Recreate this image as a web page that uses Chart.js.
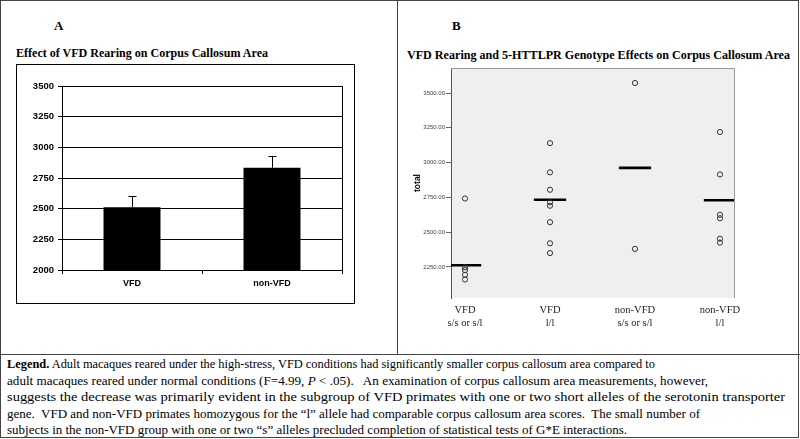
<!DOCTYPE html>
<html>
<head>
<meta charset="utf-8">
<script src="https://cdn.jsdelivr.net/npm/chart.js@4"></script>
<style>
body{margin:0;width:800px;height:439px;background:#fff;position:relative;overflow:hidden;font-family:"Liberation Serif","Times New Roman",serif;color:#000;}
.abs{position:absolute;}
#frame{left:0;top:0;width:799px;height:438px;border:1px solid #444;box-sizing:border-box;}
#vline{left:397px;top:0;width:1px;height:354px;background:#444;}
#hline{left:0;top:354px;width:800px;height:1px;background:#444;}
.panel{font-weight:bold;font-size:13px;}
.title{font-weight:bold;font-size:13px;white-space:nowrap;transform-origin:left center;}
#boxA{left:16px;top:64px;width:339px;height:240px;border:1px solid #000;box-sizing:border-box;}
#legend{left:7px;top:356px;font-size:13px;line-height:16.5px;white-space:pre;}
#legend span{display:inline-block;transform-origin:left center;}
</style>
</head>
<body>
<div id="frame" class="abs"></div>
<div id="vline" class="abs"></div>
<div id="hline" class="abs"></div>

<div class="abs panel" style="left:54px;top:18px;">A</div>
<div id="titleA" class="abs title" style="left:16px;top:45px;">Effect of VFD Rearing on Corpus Callosum Area</div>
<div id="boxA" class="abs"></div>
<canvas id="chartA" class="abs" width="337" height="238" style="left:17px;top:65px;"></canvas>

<div class="abs panel" style="left:452px;top:18px;">B</div>
<div id="titleB" class="abs title" style="left:407px;top:47px;">VFD Rearing and 5-HTTLPR Genotype Effects on Corpus Callosum Area</div>
<canvas id="chartB" class="abs" width="398" height="290" style="left:400px;top:60px;"></canvas>

<div id="legend" class="abs"><div><span data-w="648"><b>Legend.</b> Adult macaques reared under the high-stress, VFD conditions had significantly smaller corpus callosum area compared to</span></div><div><span data-w="701">adult macaques reared under normal conditions (F=4.99, <i>P</i> &lt; .05).   An examination of corpus callosum area measurements, however,</span></div><div><span data-w="778">suggests the decrease was primarily evident in the subgroup of VFD primates with one or two short alleles of the serotonin transporter</span></div><div><span data-w="693">gene.  VFD and non-VFD primates homozygous for the “l” allele had comparable corpus callosum area scores.  The small number of</span></div><div><span data-w="620">subjects in the non-VFD group with one or two “s” alleles precluded completion of statistical tests of G*E interactions.</span></div></div>

<script>
// panel A: group means with error bars
const groupsA = ['VFD', 'non-VFD'];
const meansA = [2511, 2834];
const errorsA = [93, 95];

// panel B: individual areas per rearing / genotype group
const groupLabelsB = [['VFD', 's/s or s/l'], ['VFD', 'l/l'], ['non-VFD', 's/s or s/l'], ['non-VFD', 'l/l']];
const vfdShort = [2742, 2248, 2228, 2193, 2160];
const vfdLong = [3140, 2930, 2805, 2714, 2690, 2572, 2420, 2350];
const nonVfdShort = [3572, 2380];
const nonVfdLong = [3220, 2915, 2625, 2600, 2453, 2425];
const groupMeansB = [2262, 2733, 2962, 2730];
const yTicksB = [2250, 2500, 2750, 3000, 3250, 3500];

const sans = '"Liberation Sans", Arial, sans-serif';
const serif = '"Liberation Serif", "Times New Roman", serif';

// the scanned figure is a little narrower than the font, squeeze text to fit
function fitWidth(el, w) {
    const r = w / el.getBoundingClientRect().width;
    el.style.transform = 'scaleX(' + r + ')';
}
fitWidth(document.getElementById('titleA'), 252);
fitWidth(document.getElementById('titleB'), 383);
document.querySelectorAll('#legend span').forEach(s => fitWidth(s, +s.dataset.w));

const errorBars = {
    id: 'errorBars',
    afterDatasetsDraw(chart) {
        const ctx = chart.ctx;
        const y = chart.scales.y;
        chart.getDatasetMeta(0).data.forEach((bar, i) => {
            const top = Math.round(y.getPixelForValue(meansA[i] + errorsA[i])) + 0.5;
            const x = Math.round(bar.x) + 0.5;
            ctx.save();
            ctx.strokeStyle = '#000';
            ctx.lineWidth = 1;
            ctx.beginPath();
            ctx.moveTo(x, bar.y);
            ctx.lineTo(x, top);
            ctx.moveTo(x - 4, top);
            ctx.lineTo(x + 4, top);
            ctx.stroke();
            ctx.restore();
        });
    }
};

const plotFrame = {
    id: 'plotFrame',
    afterDraw(chart) {
        const {ctx, chartArea: a} = chart;
        ctx.save();
        ctx.strokeStyle = '#000';
        ctx.lineWidth = 1;
        ctx.strokeRect(Math.round(a.left) + 0.5, Math.round(a.top) + 0.5, Math.round(a.right - a.left), Math.round(a.bottom - a.top));
        ctx.restore();
    }
};

new Chart('chartA', {
    type: 'bar',
    data: {
        labels: groupsA,
        datasets: [{
            data: meansA,
            backgroundColor: '#000',
            borderWidth: 0,
            barPercentage: 0.407,
            categoryPercentage: 1
        }]
    },
    options: {
        responsive: false,
        animation: false,
        events: [],
        layout: {padding: {top: 21, right: 12, left: 0, bottom: 0}},
        plugins: {legend: {display: false}, tooltip: {enabled: false}},
        scales: {
            x: {
                grid: {offset: true, drawOnChartArea: false, color: '#000', tickLength: 4},
                border: {color: '#000'},
                ticks: {color: '#000', padding: 4, maxRotation: 0, font: {family: sans, weight: 'bold', size: 9}},
                afterFit: s => { s.height = 33; }
            },
            y: {
                min: 2000,
                max: 3500,
                grid: {color: '#000', tickLength: 4},
                border: {color: '#000'},
                ticks: {stepSize: 250, color: '#000', padding: 4, font: {family: sans, weight: 'bold', size: 9.5}, callback: v => String(v)},
                afterFit: s => { s.width = 45; }
            }
        }
    },
    plugins: [errorBars, plotFrame]
});

const plotShade = {
    id: 'plotShade',
    beforeDraw(chart) {
        const {ctx, chartArea: a} = chart;
        ctx.save();
        ctx.fillStyle = '#efefef';
        ctx.fillRect(a.left, a.top, a.right - a.left, a.bottom - a.top);
        ctx.restore();
    },
    afterDraw(chart) {
        const {ctx, chartArea: a} = chart;
        ctx.save();
        ctx.strokeStyle = '#9a9a9a';
        ctx.lineWidth = 1;
        ctx.beginPath();
        ctx.moveTo(a.left, Math.round(a.top) + 0.5);
        ctx.lineTo(Math.round(a.right) + 0.5, Math.round(a.top) + 0.5);
        ctx.lineTo(Math.round(a.right) + 0.5, a.bottom);
        ctx.stroke();
        ctx.restore();
    }
};

const groupsB = [vfdShort, vfdLong, nonVfdShort, nonVfdLong];
const pointsB = groupsB.flatMap((vals, i) => vals.map(v => ({x: i + 1, y: v})));
const meanHalf = 0.19;
const meanLines = groupMeansB.map((m, i) => ({
    type: 'line',
    data: [{x: i + 1 - meanHalf, y: m}, {x: i + 1 + meanHalf, y: m}],
    borderColor: '#000',
    borderWidth: 2.6,
    pointRadius: 0
}));

new Chart('chartB', {
    type: 'scatter',
    data: {
        datasets: [{
            data: pointsB,
            pointRadius: 2.6,
            pointBorderWidth: 1,
            pointBorderColor: '#333',
            pointBackgroundColor: 'rgba(0,0,0,0)'
        }, ...meanLines]
    },
    options: {
        responsive: false,
        animation: false,
        events: [],
        layout: {padding: {top: 8, right: 64, left: 0, bottom: 0}},
        plugins: {legend: {display: false}, tooltip: {enabled: false}},
        scales: {
            x: {
                type: 'linear',
                min: 0.835,
                max: 4.165,
                grid: {display: false, drawTicks: false},
                border: {display: false},
                afterBuildTicks: s => { s.ticks = groupLabelsB.map((l, i) => ({value: i + 1})); },
                ticks: {
                    color: '#222',
                    padding: 5.5,
                    maxRotation: 0,
                    autoSkip: false,
                    font: {family: serif, size: 10.5, lineHeight: 1.25},
                    callback: v => groupLabelsB[v - 1]
                },
                afterFit: s => { s.height = 52; }
            },
            y: {
                min: 2027,
                max: 3680,
                grid: {drawOnChartArea: false, color: '#666', tickLength: 5},
                border: {color: '#555'},
                afterBuildTicks: s => { s.ticks = yTicksB.map(v => ({value: v})); },
                ticks: {color: '#444', padding: 1, font: {family: sans, size: 6}, callback: v => v.toFixed(2)},
                title: {display: true, text: 'total', color: '#000', padding: {top: 13, bottom: 0}, font: {family: sans, weight: 'bold', size: 8.5}},
                afterFit: s => { s.width = 51; }
            }
        }
    },
    plugins: [plotShade]
});
</script>
</body>
</html>
